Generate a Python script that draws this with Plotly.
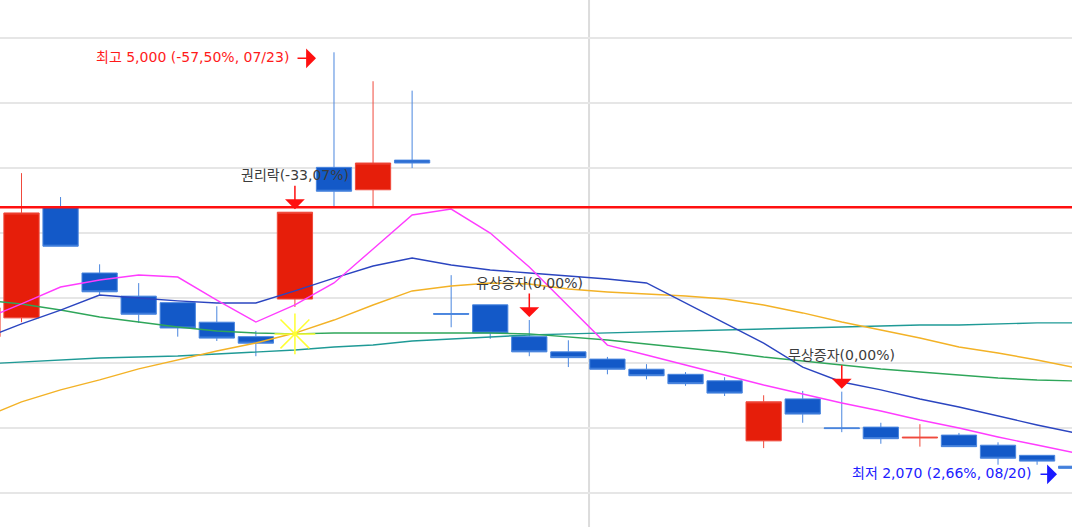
import plotly.graph_objects as go

# ---------------- data ----------------
dates = ["07/10", "07/11", "07/14", "07/15", "07/16", "07/17", "07/18", "07/21", "07/22",
         "07/23", "07/24", "07/25", "07/28", "07/29", "07/30", "07/31", "08/01", "08/04",
         "08/05", "08/06", "08/07", "08/08", "08/11", "08/12", "08/13", "08/14", "08/18",
         "08/19", "08/20"]
opens  = [3035, 3165, 3930, 3475, 3315, 3270, 3135, 3035, 3295, 4205, 4050, 4255, 3195, 3255,
          3035, 2930, 2880, 2810, 2775, 2730, 2315, 2605, 2405, 2410, 2335, 2355, 2285, 2215, 2140]
highs  = [3290, 4165, 4000, 3535, 3405, 3270, 3245, 3075, 3895, 5000, 4800, 4735, 3460, 3255,
          3150, 3010, 2895, 2845, 2790, 2755, 2630, 2660, 2655, 2440, 2430, 2370, 2305, 2215, 2155]
lows   = [3010, 3135, 3660, 3325, 3130, 3035, 3005, 2900, 3240, 3930, 3930, 4200, 3100, 3020,
          2900, 2825, 2775, 2740, 2695, 2625, 2265, 2440, 2375, 2295, 2275, 2275, 2150, 2150, 2070]
closes = [3235, 3890, 3660, 3345, 3190, 3095, 3025, 2990, 3895, 4040, 4235, 4235, 3190, 3060,
          2930, 2890, 2810, 2765, 2710, 2645, 2585, 2500, 2400, 2330, 2340, 2275, 2195, 2175, 2125]

ma5   = [3150, 3261, 3378, 3427, 3461, 3447, 3288, 3136, 3254, 3406, 3641, 3876, 3917, 3751,
         3516, 3247, 2977, 2908, 2839, 2770, 2701, 2639, 2577, 2521, 2459, 2404, 2342, 2286, 2231]
ma20  = [3019, 3123, 3219, 3323, 3302, 3282, 3268, 3268, 3351, 3440, 3523, 3579, 3530, 3496,
         3475, 3454, 3434, 3406, 3268, 3130, 2991, 2825, 2722, 2667, 2604, 2549, 2487, 2425, 2369]
ma60  = [2473, 2584, 2667, 2736, 2812, 2874, 2936, 2991, 3060, 3150, 3254, 3351, 3385, 3406,
         3399, 3364, 3344, 3330, 3316, 3295, 3254, 3199, 3136, 3081, 3026, 2964, 2922, 2874, 2819]
ma120 = [3288, 3261, 3219, 3171, 3136, 3102, 3074, 3060, 3054, 3060, 3060, 3060, 3060, 3060,
         3054, 3033, 3012, 2984, 2957, 2929, 2895, 2867, 2839, 2812, 2791, 2770, 2749, 2736, 2729]
ma240 = [2846, 2860, 2874, 2888, 2895, 2901, 2915, 2929, 2943, 2964, 2977, 3005, 3019, 3033,
         3047, 3054, 3060, 3067, 3074, 3081, 3088, 3095, 3102, 3109, 3116, 3116, 3123, 3130, 3130]

ref_line = 3930            # red horizontal reference price
cross_date, cross_price = "07/22", 3054   # yellow star marker
month_start = "08/01"

high_label = "최고 5,000 (-57,50%, 07/23)"
high_date, high_price = "07/23", 5000
low_label = "최저 2,070 (2,66%, 08/20)"
low_date, low_price = "08/20", 2070
events = [("07/22", "권리락(-33,07%)"), ("07/30", "유상증자(0,00%)"), ("08/11", "무상증자(0,00%)")]

# ---------------- figure ----------------
fig = go.Figure()

ma_styles = [(ma240, "#1f9a96"), (ma120, "#2fa65a"), (ma60, "#f3b226"),
             (ma20, "#2b45c0"), (ma5, "#ff3cff")]
for vals, col in ma_styles:
    fig.add_trace(go.Scatter(x=dates, y=vals, mode="lines",
                             line=dict(color=col, width=1.4), hoverinfo="skip"))

fig.add_trace(go.Candlestick(
    x=dates, open=opens, high=highs, low=lows, close=closes,
    increasing=dict(fillcolor="#E61E0A", line=dict(color="#F04A3C", width=1)),
    decreasing=dict(fillcolor="#1359C8", line=dict(color="#4A86DF", width=1)),
    whiskerwidth=0, hoverinfo="skip"))

fig.add_trace(go.Scatter(x=[cross_date], y=[cross_price], mode="markers",
                         marker=dict(symbol="asterisk-open", size=34, color="#ffff33",
                                     line=dict(color="#ffff33", width=1.5)),
                         hoverinfo="skip"))

font_kr = "DejaVu Sans, Noto Sans CJK KR, sans-serif"
sep_x = dates.index(month_start) - 0.47

shapes = [
    dict(type="line", xref="x", yref="paper", x0=sep_x, x1=sep_x, y0=0, y1=1,
         line=dict(color="#dcdcdc", width=2), layer="below"),
    dict(type="line", xref="paper", yref="y", x0=0, x1=1, y0=ref_line, y1=ref_line,
         line=dict(color="#ff1010", width=2.5), layer="above"),
]

arrow_style = dict(arrowhead=1, arrowsize=2.2, arrowwidth=1.5)
annotations = []
# highest price label + arrow
hx = dates.index(high_date) - 0.46
annotations.append(dict(x=hx, y=high_price, xref="x", yref="y", text="", showarrow=True,
                        ax=-20, ay=0, arrowcolor="#ff1010", yshift=-6, **arrow_style))
annotations.append(dict(x=hx, y=high_price, xref="x", yref="y", text=high_label, showarrow=False,
                        xanchor="right", yanchor="middle", xshift=-25, yshift=-5,
                        font=dict(family=font_kr, size=14, color="#ff1a1a")))
# lowest price label + arrow
lx = dates.index(low_date) - 0.49
annotations.append(dict(x=lx, y=low_price, xref="x", yref="y", text="", showarrow=True,
                        ax=-18, ay=0, arrowcolor="#1a1aff", yshift=2, **arrow_style))
annotations.append(dict(x=lx, y=low_price, xref="x", yref="y", text=low_label, showarrow=False,
                        xanchor="right", yanchor="middle", xshift=-24, yshift=3,
                        font=dict(family=font_kr, size=14, color="#2020ff")))
# event markers
for d, label in events:
    i = dates.index(d)
    annotations.append(dict(x=d, y=highs[i], xref="x", yref="y", text="", showarrow=True,
                            ax=0, ay=-25, arrowcolor="#ff1010", yshift=3, **arrow_style))
    annotations.append(dict(x=d, y=highs[i], xref="x", yref="y", text=label, showarrow=False,
                            xanchor="center", yanchor="middle", yshift=37,
                            font=dict(family=font_kr, size=14, color="#3c3c3c")))

fig.update_layout(
    width=1072, height=527,
    margin=dict(l=0, r=0, t=0, b=0, pad=0),
    paper_bgcolor="white", plot_bgcolor="white",
    showlegend=False, hovermode=False,
    boxgap=0.05, boxgroupgap=0.05,
    shapes=shapes, annotations=annotations,
    xaxis=dict(type="category", range=[0.4496, 27.894], showgrid=False, showticklabels=False,
               zeroline=False, showline=False, ticks="", rangeslider=dict(visible=False)),
    yaxis=dict(range=[1719.8, 5361.4], tick0=5098.8, dtick=449.15, showgrid=True,
               gridcolor="#e6e6e6", gridwidth=2, showticklabels=False, zeroline=False,
               showline=False, ticks=""),
)

fig.write_html("out.html", config={"displayModeBar": False},
               post_script="document.body.style.margin='0';document.body.style.overflow='hidden';")
